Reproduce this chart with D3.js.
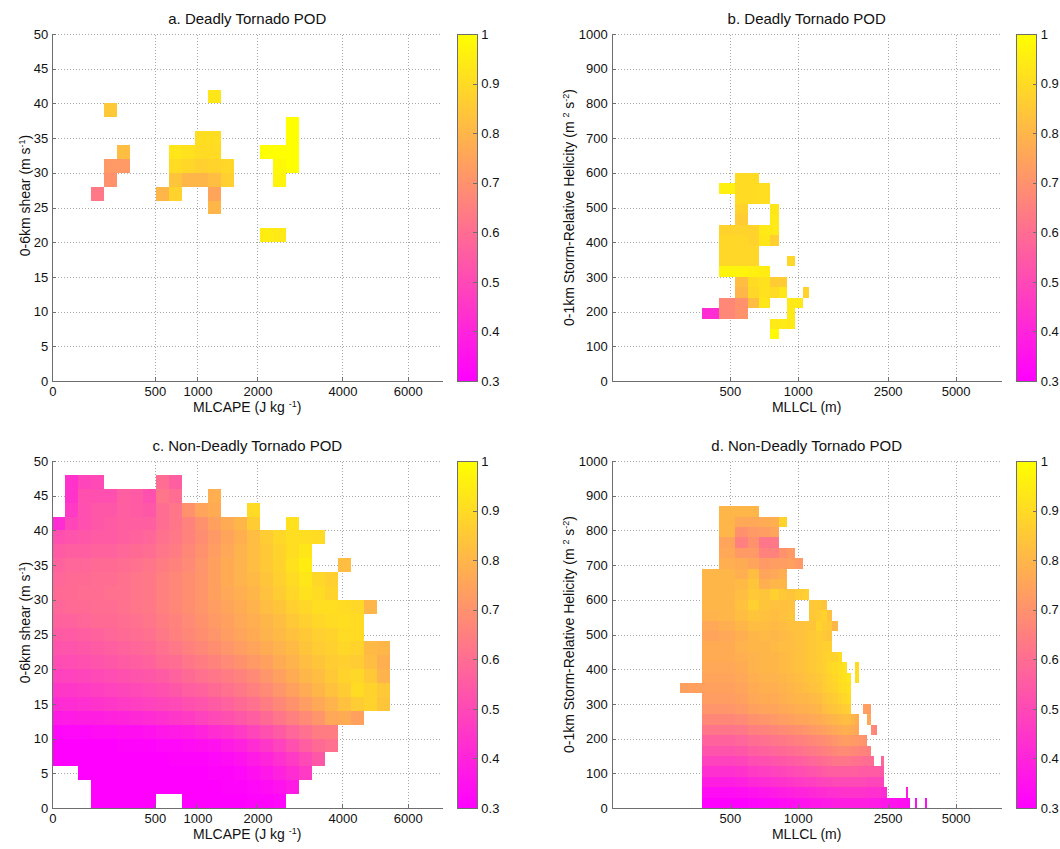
<!DOCTYPE html>
<html>
<head>
<meta charset="utf-8">
<title>Tornado POD</title>
<script src="https://cdn.jsdelivr.net/npm/d3@7"></script>
<style>
  body { margin: 0; background: #fff; }
  svg text { font-family: Arial, "Liberation Sans", sans-serif; fill: #111; }
  .grid line { stroke: #a8a8a8; stroke-dasharray: 1 2; shape-rendering: crispEdges; }
  .grid .domain { display: none; }
  .axis path, .axis line { stroke: #6e6e6e; shape-rendering: crispEdges; }
  .axis text { font-size: 13px; }
</style>
</head>
<body>
<svg width="1060" height="849"></svg>
<script>
// tick labels
const capeTicks = [0, 500, 1000, 2000, 4000, 6000];
const lclTicks = [500, 1000, 2500, 5000];
const shearTicks = [0, 5, 10, 15, 20, 25, 30, 35, 40, 45, 50];
const srhTicks = [0, 100, 200, 300, 400, 500, 600, 700, 800, 900, 1000];
const podTicks = [0.3, 0.4, 0.5, 0.6, 0.7, 0.8, 0.9, 1];

// a. deadly: [CAPE bin (sqrt bins), shear bin low (m/s), POD %]
const deadlyCape = [
  [3, 26, 63], [4, 28, 70], [4, 30, 72], [4, 38, 85], [5, 30, 72], [5, 32, 82],
  [8, 26, 80], [9, 26, 88], [9, 28, 84], [9, 30, 90], [9, 32, 93],
  [10, 28, 80], [10, 30, 89], [10, 32, 92],
  [11, 28, 80], [11, 30, 87], [11, 32, 90], [11, 34, 91],
  [12, 24, 80], [12, 26, 75], [12, 28, 82], [12, 30, 88], [12, 32, 90], [12, 34, 91], [12, 40, 93],
  [13, 28, 87], [13, 30, 89],
  [16, 20, 95], [16, 32, 100],
  [17, 20, 94], [17, 28, 97], [17, 30, 98], [17, 32, 100],
  [18, 30, 100], [18, 32, 100], [18, 34, 100], [18, 36, 100]
];

// b. deadly: [LCL bin low (m), SRH bin low, POD %]
const deadlyLcl = [
  [525, 570, 90], [600, 570, 90],
  [450, 540, 96], [525, 540, 90], [600, 540, 90], [675, 540, 91],
  [525, 510, 90], [600, 510, 90], [675, 510, 91],
  [525, 480, 88], [750, 480, 93],
  [525, 450, 86], [750, 450, 94],
  [450, 420, 88], [525, 420, 88], [600, 420, 88], [675, 420, 94], [750, 420, 94],
  [450, 390, 89], [525, 390, 89], [600, 390, 88], [675, 390, 93], [750, 390, 87],
  [450, 360, 89], [525, 360, 89], [600, 360, 89],
  [450, 330, 89], [525, 330, 89], [600, 330, 89], [900, 330, 89],
  [450, 300, 97], [525, 300, 97], [600, 300, 96], [675, 300, 95],
  [525, 270, 82], [600, 270, 90], [675, 270, 92], [750, 270, 86], [825, 270, 86],
  [525, 240, 80], [600, 240, 89], [675, 240, 92], [750, 240, 90], [825, 240, 93], [1050, 240, 88],
  [450, 210, 67], [525, 210, 70], [600, 210, 82], [675, 210, 93], [900, 210, 94], [975, 210, 94],
  [375, 180, 42], [450, 180, 67], [525, 180, 70], [900, 180, 94],
  [750, 150, 94], [825, 150, 94], [900, 150, 94],
  [750, 120, 98]
];

// c. non-deadly: one row per 2 m/s of shear (from 0 upward), POD % per CAPE bin
const nonDeadlyCape = [
  "__ __ __ 30 30 30 30 30 __ __ 30 30 30 30 30 31 31 32 __ __ __ __ __ __ __ __",
  "__ __ __ 30 30 30 30 30 30 30 30 30 30 31 31 32 33 35 37 __ __ __ __ __ __ __",
  "__ __ 30 30 30 30 30 30 30 30 30 30 31 31 32 34 36 39 42 46 __ __ __ __ __ __",
  "30 30 30 30 30 30 30 30 30 31 31 31 32 33 35 37 40 43 46 50 54 __ __ __ __ __",
  "30 30 30 30 30 31 31 31 32 32 33 34 35 37 39 42 45 48 52 56 59 61 __ __ __ __",
  "32 32 32 33 33 34 34 35 36 37 38 40 42 44 46 49 52 55 58 61 64 64 __ __ __ __",
  "37 37 38 38 39 40 41 42 43 45 46 48 50 52 54 56 59 62 65 68 71 76 77 74 __ __",
  "42 42 43 44 45 46 47 48 49 50 52 53 55 57 59 61 64 67 70 73 76 79 83 86 88 84",
  "45 45 46 47 48 49 50 51 52 54 56 57 59 61 63 65 68 71 74 77 80 83 86 90 88 85",
  "48 48 49 50 51 52 53 54 55 57 59 61 62 64 66 68 71 74 77 80 82 85 88 89 85 79",
  "51 51 52 53 54 55 56 57 59 60 62 64 66 68 70 72 74 77 79 82 84 86 87 86 82 78",
  "53 53 54 55 56 57 58 59 61 63 65 67 69 71 73 75 77 79 81 84 86 87 89 88 81 80",
  "55 55 56 57 58 59 60 61 63 65 67 69 71 73 75 77 79 81 83 85 87 88 90 90 __ __",
  "57 57 58 59 59 60 61 62 64 66 68 70 72 74 76 78 80 82 85 87 89 90 91 90 __ __",
  "58 59 59 60 60 61 62 63 65 67 69 71 73 75 77 79 82 84 87 89 91 91 90 89 80 __",
  "59 59 60 60 61 61 62 63 65 67 69 71 74 76 78 80 83 86 89 92 90 88 __ __ __ __",
  "58 59 59 60 60 61 62 63 65 67 69 71 74 77 79 81 84 87 90 93 89 87 __ __ __ __",
  "57 58 58 59 59 60 61 62 64 66 68 71 74 77 79 82 85 88 92 95 __ __ 82 __ __ __",
  "55 56 56 57 57 58 59 60 62 64 67 70 73 76 79 82 85 88 91 93 __ __ __ __ __ __",
  "52 53 54 55 55 56 57 58 61 63 66 69 72 75 78 82 86 89 91 91 90 __ __ __ __ __",
  "42 49 52 54 55 56 56 56 60 62 66 70 74 77 80 86 __ __ 92 __ __ __ __ __ __ __",
  "__ 46 52 54 54 56 55 54 60 62 70 75 77 __ __ 90 __ __ __ __ __ __ __ __ __ __",
  "__ 44 52 52 52 56 55 52 62 60 __ __ 78 __ __ __ __ __ __ __ __ __ __ __ __ __",
  "__ 44 49 50 __ __ __ __ 60 56 __ __ __ __ __ __ __ __ __ __ __ __ __ __ __ __"
];

// d. non-deadly: [SRH bin low, first LCL bin low (m), POD % per 75 m bin...]
const nonDeadlyLcl = [
  [0, 375, 30, 30, 30, 31, 32, 32, 33, 34, 35, 35, 36, 36, 37, 37, 38, 38, 38, 38, 38, 38, 38, 38, 38, 37, 37, 37, 36, 36, 36, 35, 35, 35, 34, 34, 34, 33, 33, null, null, 33, null, null, null, null, 33],
  [30, 375, 33, 33, 34, 35, 36, 37, 38, 39, 40, 40, 41, 42, 42, 43, 43, 44, 44, 44, 44, 44, 44, 44, 43, 43, 43, 43, 42, 42, null, null, null, null, null, null, null, 38],
  [60, 375, 38, 38, 39, 41, 42, 43, 44, 45, 46, 47, 47, 48, 49, 49, 50, 50, 50, 50, 50, 50, 50, 50, 49, 49, 49, 49, 48],
  [90, 375, 43, 43, 44, 46, 47, 48, 49, 50, 51, 52, 53, 54, 55, 56, 56, 56, 56, 56, 56, 56, 55, 55, 55, 55, 55, 55, 54],
  [120, 375, 48, 48, 49, 51, 52, 53, 54, 55, 56, 57, 58, 59, 60, 61, 62, 62, 62, 62, 61, 61, 61, 60, 60, 60, null, null, 58],
  [150, 375, 53, 53, 54, 56, 57, 58, 59, 60, 61, 62, 63, 64, 65, 66, 67, 68, 68, 68, 67, 67, 66, 66, 65],
  [180, 375, 57, 57, 58, 60, 61, 62, 63, 64, 65, 66, 67, 68, 69, 70, 71, 72, 73, 73, 72, 72, 71, 70],
  [210, 375, 62, 62, 63, 65, 66, 67, 68, 69, 70, 71, 72, 73, 74, 75, 76, 77, 78, 78, 77, 76, null, null, null, 68, 66],
  [240, 375, 67, 67, 68, 70, 71, 72, 73, 74, 75, 75, 76, 77, 78, 79, 80, 81, 82, 82, 80, 78, null, null, 76],
  [270, 375, 71, 71, 72, 74, 75, 75, 76, 77, 78, 78, 79, 80, 82, 83, 84, 85, 86, 87, null, null, null, 74, 73],
  [300, 375, 73, 73, 74, 76, 77, 77, 78, 79, 80, 80, 81, 82, 84, 85, 86, 88, 89, 90],
  [330, 300, 74, 74, 74, 75, 77, 78, 78, 79, 80, 81, 82, 83, 84, 86, 87, 88, 90, 91, 92],
  [360, 375, 75, 75, 76, 78, 79, 79, 80, 81, 82, 83, 84, 85, 86, 88, 89, 91, 92, 93, null, 91],
  [390, 375, 76, 76, 77, 79, 80, 80, 81, 82, 83, 84, 85, 86, 87, 89, 90, 91, 92, null, null, 90],
  [420, 375, 77, 77, 78, 79, 80, 80, 81, 82, 83, 84, 85, 86, 87, 88, 88, 90],
  [450, 375, 77, 77, 79, 80, 80, 81, 82, 82, 83, 84, 85, 86, 87, 87],
  [480, 375, 75, 76, 78, 80, 81, 80, 81, 82, 83, 84, 85, 86, 85, 84],
  [510, 375, 76, 78, 80, 82, 82, 81, 82, 83, 83, 84, 84, 88, 86, 85, 80],
  [540, 375, 79, 80, 82, 84, 83, 82, 83, 84, null, null, 85, 86, 88, 83],
  [570, 375, 80, 80, 83, 87, 84, 83, 83, 83, null, null, 85, 85, 84],
  [600, 375, 80, 80, 82, 85, 84, 87, 85, 84, 86, 87],
  [630, 375, 80, 80, 81, 84, 78, 80, 80],
  [660, 375, 80, 80, 78, 82, 75, 76, 78],
  [690, 450, 78, 77, 75, 72, 73, 73, 74, 72],
  [720, 450, 76, 72, 72, 66, 66, 70, 72],
  [750, 450, 75, 65, 70, 62, 63],
  [780, 450, 80, 70, 72, 73, 75],
  [810, 450, 80, 76, 76, 77, 78, 88],
  [840, 450, 80, 80, 80]
];

// 畫布
const svg = d3.select("svg");
const W = 390, H = 347;
const capeMax = 7225;
const capeStep = Math.sqrt(capeMax) / 30;
const capeEdge = i => (i * capeStep) ** 2;
const lclStep = 75;

const color = d3.scaleLinear().domain([0.3, 1]).range(["#ff00ff", "#ffff00"]).clamp(true);

const capeX = d3.scaleSqrt().domain([0, capeMax]).range([0, W]);
const lclX = d3.scaleLog().domain([150, 8000]).range([0, W]);
const shearY = d3.scaleLinear().domain([0, 50]).range([H, 0]);
const srhY = d3.scaleLinear().domain([0, 1000]).range([H, 0]);
const cbScale = d3.scaleLinear().domain([0.3, 1]).range([H, 0]);

// 色條漸層
const grad = svg.append("defs").append("linearGradient")
  .attr("id", "spring").attr("x1", 0).attr("y1", 1).attr("x2", 0).attr("y2", 0);
grad.selectAll("stop").data(podTicks).join("stop")
  .attr("offset", d => (d - 0.3) / 0.7)
  .attr("stop-color", d => color(d));

// cells
const cellsA = deadlyCape.map(([i, s, p]) =>
  ({ x0: capeEdge(i), x1: capeEdge(i + 1), y0: s, y1: s + 2, v: p / 100 }));
const cellsB = deadlyLcl.map(([l, h, p]) =>
  ({ x0: l, x1: l + lclStep, y0: h, y1: h + 30, v: p / 100 }));
const cellsC = nonDeadlyCape.flatMap((row, r) => row.split(" ")
  .map((t, i) => t === "__" ? null :
    ({ x0: capeEdge(i), x1: capeEdge(i + 1), y0: r * 2, y1: r * 2 + 2, v: +t / 100 }))
  .filter(d => d));
const cellsD = nonDeadlyLcl.flatMap(([h, l0, ...vals]) => vals
  .map((p, k) => p == null ? null :
    ({ x0: l0 + k * lclStep, x1: l0 + (k + 1) * lclStep, y0: h, y1: h + 30, v: p / 100 }))
  .filter(d => d));

const capeLabel = [["MLCAPE (J kg "], ["-1", true], [")"]];
const lclLabel = [["MLLCL (m)"]];
const shearLabel = [["0-6km shear (m s"], ["-1", true], [")"]];
const srhLabel = [["0-1km Storm-Relative Helicity (m "], ["2", true], [" s"], ["-2", true], [")"]];

const panels = [
  { left: 52.3, top: 34, x: capeX, y: shearY, xTicks: capeTicks, yTicks: shearTicks, cells: cellsA,
    title: "a. Deadly Tornado POD", xlabel: capeLabel, ylabel: shearLabel, yOff: 22, yShift: -12 },
  { left: 611.7, top: 34, x: lclX, y: srhY, xTicks: lclTicks, yTicks: srhTicks, cells: cellsB,
    title: "b. Deadly Tornado POD", xlabel: lclLabel, ylabel: srhLabel, yOff: 38, yShift: 0 },
  { left: 52.3, top: 461, x: capeX, y: shearY, xTicks: capeTicks, yTicks: shearTicks, cells: cellsC,
    title: "c. Non-Deadly Tornado POD", xlabel: capeLabel, ylabel: shearLabel, yOff: 22, yShift: -12 },
  { left: 611.7, top: 461, x: lclX, y: srhY, xTicks: lclTicks, yTicks: srhTicks, cells: cellsD,
    title: "d. Non-Deadly Tornado POD", xlabel: lclLabel, ylabel: srhLabel, yOff: 38, yShift: 0 }
];

function addParts(text, parts) {
  let up = false;
  parts.forEach(([t, sup]) => {
    const dy = sup && !up ? -5 : (!sup && up ? 5 : 0);
    text.append("tspan").attr("dy", dy).attr("font-size", sup ? "9px" : null).text(t);
    up = !!sup;
  });
}

panels.forEach(p => {
  const g = svg.append("g").attr("transform", `translate(${p.left},${p.top})`);

  // 網格
  g.append("g").attr("class", "grid").attr("transform", `translate(0,${H})`)
    .call(d3.axisBottom(p.x).tickValues(p.xTicks).tickSize(-H).tickFormat(""));
  g.append("g").attr("class", "grid")
    .call(d3.axisLeft(p.y).tickValues(p.yTicks).tickSize(-W).tickFormat(""));

  // 熱圖單元格
  g.append("g").selectAll("rect").data(p.cells).join("rect")
    .attr("x", d => p.x(d.x0))
    .attr("y", d => p.y(d.y1))
    .attr("width", d => p.x(d.x1) - p.x(d.x0))
    .attr("height", d => p.y(d.y0) - p.y(d.y1))
    .attr("fill", d => color(d.v))
    .attr("shape-rendering", "crispEdges");

  // 軸
  g.append("g").attr("class", "axis").attr("transform", `translate(0,${H})`)
    .call(d3.axisBottom(p.x).tickValues(p.xTicks).tickFormat(d3.format("d"))
      .tickSizeInner(-4).tickSizeOuter(0).tickPadding(6));
  g.append("g").attr("class", "axis")
    .call(d3.axisLeft(p.y).tickValues(p.yTicks).tickFormat(d3.format("d"))
      .tickSizeInner(-4).tickSizeOuter(0).tickPadding(4));

  // 標題與軸標籤
  g.append("text").attr("x", W / 2).attr("y", -10)
    .attr("text-anchor", "middle").style("font-size", "15px").text(p.title);
  addParts(g.append("text").attr("x", W / 2).attr("y", H + 31)
    .attr("text-anchor", "middle").style("font-size", "14px"), p.xlabel);
  addParts(g.append("text")
    .attr("transform", `translate(${-p.yOff},${H / 2 + p.yShift}) rotate(-90)`)
    .attr("text-anchor", "middle").style("font-size", "14px"), p.ylabel);

  // 色條
  const cb = g.append("g").attr("transform", `translate(${W + 15},0)`);
  cb.append("rect").attr("width", 20).attr("height", H)
    .attr("fill", "url(#spring)").attr("stroke", "#6e6e6e").attr("shape-rendering", "crispEdges");
  cb.append("g").attr("class", "axis").attr("transform", "translate(20,0)")
    .call(d3.axisRight(cbScale).tickValues(podTicks).tickFormat(d3.format("~g"))
      .tickSizeInner(-4).tickSizeOuter(0).tickPadding(4))
    .select(".domain").remove();
});
</script>
</body>
</html>
